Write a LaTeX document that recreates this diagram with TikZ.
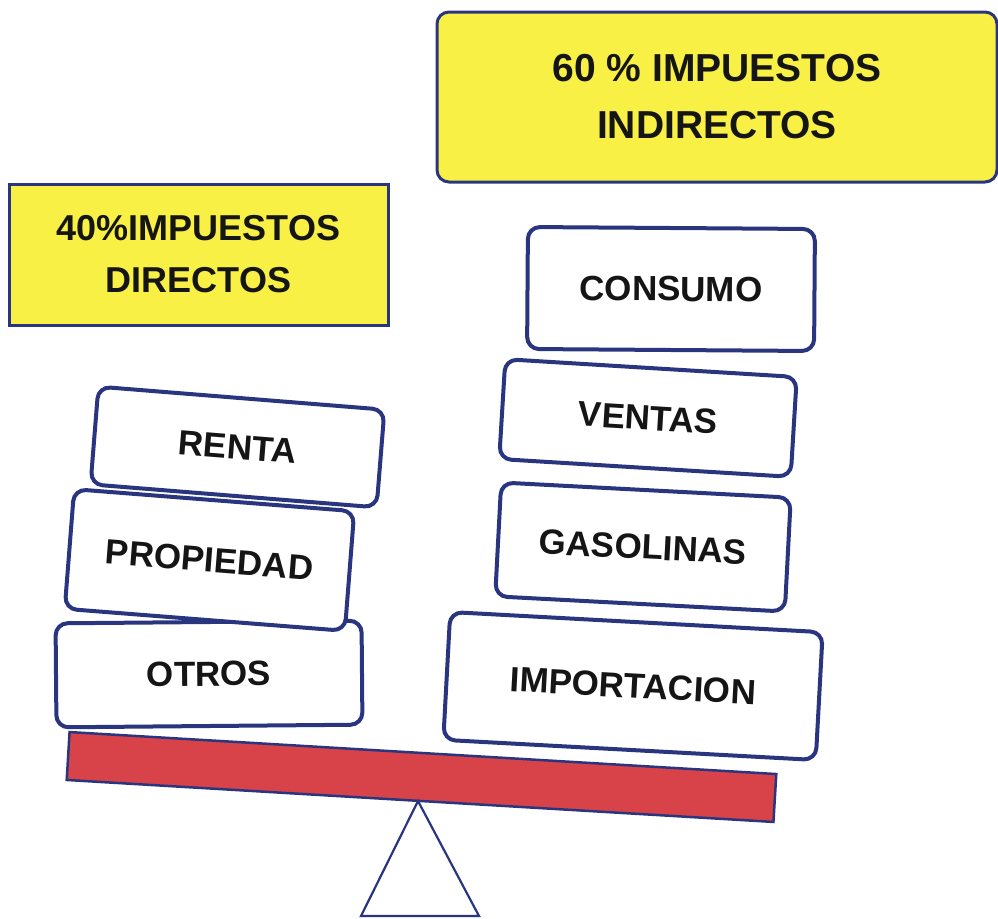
\documentclass[tikz,border=0pt]{standalone}
\usepackage{fontspec}
\setmainfont{Liberation Sans}
\definecolor{navy}{HTML}{2A3580}
\definecolor{hiyellow}{HTML}{F8F045}
\definecolor{beamred}{HTML}{D8434A}
\definecolor{ink}{HTML}{151515}
\begin{document}
\begin{tikzpicture}[x=1pt,y=-1pt,
  wbox/.style={draw=navy, line width=4pt, fill=white, rounded corners=12pt,
    text=ink, font=\fontsize{35}{40}\selectfont\bfseries, inner sep=0pt},
  ybox/.style={draw=navy, line width=3pt, fill=hiyellow, text=ink, align=center, inner sep=0pt},
]
\useasboundingbox (0,0) rectangle (998,918);
% headers
\node[ybox, rounded corners=12pt, minimum width=560, minimum height=170,
  font=\fontsize{39}{57}\selectfont\bfseries] (ind) at (717,97) {60 \% IMPUESTOS\\INDIRECTOS};
\node[ybox, minimum width=379, minimum height=141,
  font=\fontsize{36}{52}\selectfont\bfseries] (dir) at (198.5,254.5) {40\%IMPUESTOS\\DIRECTOS};
% beam and fulcrum
\node[draw=navy, line width=2.5pt, fill=beamred, minimum width=708, minimum height=48,
  inner sep=0pt, rotate=-3.4] (beam) at (421.5,777) {};
\coordinate (apex) at (418,801);
\coordinate (bl) at (361,916);
\coordinate (br) at (479,916);
\draw[navy, line width=2.2pt, fill=white, line join=miter] (apex) -- (br) -- (bl) -- cycle;
% left stack
\node[wbox, minimum width=306, minimum height=104, rotate=0.5] (otros) at (209,674) {OTROS};
\node[wbox, minimum width=281, minimum height=120, rotate=-4.5] (prop) at (209.5,560) {PROPIEDAD};
\node[wbox, minimum width=287, minimum height=98, rotate=-4.6] (renta) at (237.5,447) {RENTA};
% right stack
\node[wbox, minimum width=373, minimum height=128, rotate=-3.1] (imp) at (633,686) {IMPORTACION};
\node[wbox, minimum width=290, minimum height=114, rotate=-3] (gas) at (643,547) {GASOLINAS};
\node[wbox, minimum width=292, minimum height=100, rotate=-3.5] (ven) at (648,418) {VENTAS};
\node[wbox, minimum width=287, minimum height=122, rotate=-0.4] (con) at (671,289) {CONSUMO};
\end{tikzpicture}
\end{document}
